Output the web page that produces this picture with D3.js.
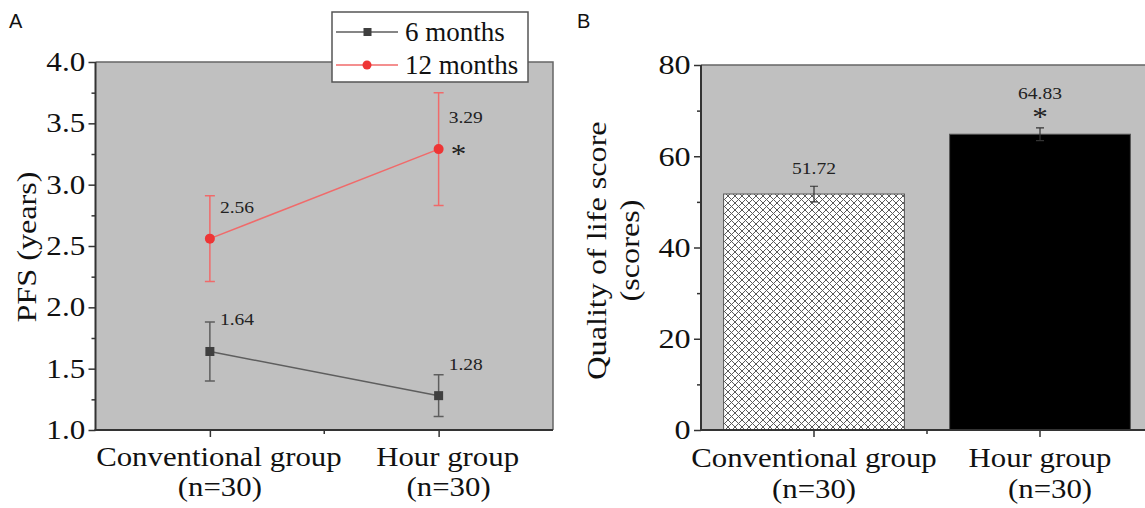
<!DOCTYPE html>
<html>
<head>
<meta charset="utf-8">
<script src="https://cdn.jsdelivr.net/npm/d3@7"></script>
<style>
    body { margin: 0; background: #fff; }
    text { font-family: "Liberation Serif", "Times New Roman", serif; }
</style>
</head>
<body>
<div id="chartarea"></div>
<script>
const groups = ['Conventional group', 'Hour group'];
const groupSizes = ['(n=30)', '(n=30)'];
const seriesNames = ['6 months', '12 months'];

// panel A - PFS (years)
const pfs6 = [1.64, 1.28];
const pfs6Err = [0.24, 0.17];
const pfs12 = [2.56, 3.29];
const pfs12Err = [0.35, 0.46];
const pfsTicks = [1.0, 1.5, 2.0, 2.5, 3.0, 3.5, 4.0];

// panel B - quality of life
const qolScores = [51.72, 64.83];
const qolErr = [1.7, 1.4];
const qolTicks = [0, 20, 40, 60, 80];

// the source figure's serif text is a bit wider than Times
const STRETCH = 'scale(1.15,1)';
const STRETCH_X = 'scale(1.1,1)';

const svg = d3.select('#chartarea')
    .append('svg')
        .attr('width', 1145)
        .attr('height', 508);

const defs = svg.append('defs');
const hatch = defs.append('pattern')
    .attr('id', 'crosshatch')
    .attr('width', 7)
    .attr('height', 7)
    .attr('patternUnits', 'userSpaceOnUse');
hatch.append('rect').attr('width', 7).attr('height', 7).attr('fill', '#fff');
hatch.append('path')
    .attr('d', 'M0,0L7,7M7,0L0,7')
    .attr('stroke', '#5a5a5a')
    .attr('stroke-width', 1);

const midTicks = ticks => ticks.slice(1).map((t, i) => (t + ticks[i]) / 2);

const styleAxis = (g, size) => {
    g.select('.domain').remove();
    g.selectAll('line').attr('stroke', '#333').attr('stroke-width', 1.5);
    g.selectAll('text')
        .attr('font-size', size)
        .attr('fill', '#111')
        .attr('transform', STRETCH)
        .style('font-family', '"Liberation Serif", serif');
};

// stretched text placed at (x, y)
const label = (parent, x, y, txt, size, anchor, stretch) => parent.append('g')
    .attr('transform', `translate(${x},${y}) ${stretch || STRETCH}`)
    .append('text')
        .attr('text-anchor', anchor || 'middle')
        .attr('font-size', size)
        .attr('fill', '#111')
        .text(txt);

// ---------- Panel A ----------
const A = { left: 95.5, top: 62, right: 553, bottom: 430 };

const xA = d3.scalePoint()
    .domain(groups)
    .range([A.left, A.right])
    .padding(0.5);

const yA = d3.scaleLinear()
    .domain([1, 4])
    .range([A.bottom, A.top]);

const gA = svg.append('g');

gA.append('rect')
    .attr('x', A.left)
    .attr('y', A.top)
    .attr('width', A.right - A.left)
    .attr('height', A.bottom - A.top)
    .attr('fill', '#c0c0c0');

gA.append('path')
    .attr('d', `M${A.left},${A.top}H${A.right}V${A.bottom}`)
    .attr('fill', 'none')
    .attr('stroke', '#666')
    .attr('stroke-width', 1.5);

// y axis
gA.append('g')
    .attr('transform', `translate(${A.left},0)`)
    .call(d3.axisLeft(yA).tickValues(pfsTicks).tickFormat(d3.format('.1f')).tickSize(7).tickPadding(2))
    .call(g => styleAxis(g, '27px'));
gA.append('g')
    .attr('transform', `translate(${A.left},0)`)
    .call(d3.axisLeft(yA).tickValues(midTicks(pfsTicks)).tickFormat('').tickSize(4))
    .call(g => styleAxis(g, '0px'));

// x axis
gA.append('g')
    .attr('transform', `translate(0,${A.bottom})`)
    .call(d3.axisBottom(xA).tickFormat('').tickSize(7))
    .call(g => styleAxis(g, '0px'));
gA.append('line')
    .attr('x1', (xA(groups[0]) + xA(groups[1])) / 2)
    .attr('x2', (xA(groups[0]) + xA(groups[1])) / 2)
    .attr('y1', A.bottom)
    .attr('y2', A.bottom + 4)
    .attr('stroke', '#333')
    .attr('stroke-width', 1.5);

gA.append('line')
    .attr('x1', A.left).attr('x2', A.left)
    .attr('y1', A.top).attr('y2', A.bottom + 1)
    .attr('stroke', '#333').attr('stroke-width', 2);
gA.append('line')
    .attr('x1', A.left - 1).attr('x2', A.right)
    .attr('y1', A.bottom).attr('y2', A.bottom)
    .attr('stroke', '#333').attr('stroke-width', 2);

// x labels
groups.forEach((d, i) => {
    label(gA, xA(d) + 9, A.bottom + 36, d, '28px', 'middle', STRETCH_X);
    label(gA, xA(d) + 10, A.bottom + 66, groupSizes[i], '28px', 'middle', STRETCH_X);
});

// y label
gA.append('g')
    .attr('transform', `translate(36, ${(A.top + A.bottom) / 2 + 1}) rotate(-90) ${STRETCH}`)
    .append('text')
        .attr('text-anchor', 'middle')
        .attr('font-size', '28px')
        .attr('fill', '#111')
        .text('PFS (years)');

const series = [
    { name: seriesNames[0], values: pfs6, err: pfs6Err, line: '#5e5e5e', mark: '#3f3f3f', shape: 'square' },
    { name: seriesNames[1], values: pfs12, err: pfs12Err, line: '#f06a6a', mark: '#ee3535', shape: 'circle' }
];

const lineGen = d3.line()
    .x((d, i) => xA(groups[i]))
    .y(d => yA(d));

series.forEach(s => {
    const g = gA.append('g');
    // error bars
    s.values.forEach((v, i) => {
        const cx = xA(groups[i]);
        g.append('path')
            .attr('d', `M${cx},${yA(v + s.err[i])}V${yA(v - s.err[i])}M${cx - 5},${yA(v + s.err[i])}H${cx + 5}M${cx - 5},${yA(v - s.err[i])}H${cx + 5}`)
            .attr('fill', 'none')
            .attr('stroke', s.line)
            .attr('stroke-width', 1.5);
    });
    g.append('path')
        .datum(s.values)
        .attr('d', lineGen)
        .attr('fill', 'none')
        .attr('stroke', s.line)
        .attr('stroke-width', 1.5);
    s.values.forEach((v, i) => {
        const cx = xA(groups[i]);
        if (s.shape === 'square') {
            g.append('rect')
                .attr('x', cx - 4.5).attr('y', yA(v) - 4.5)
                .attr('width', 9).attr('height', 9)
                .attr('fill', s.mark);
        } else {
            g.append('circle')
                .attr('cx', cx).attr('cy', yA(v))
                .attr('r', 5)
                .attr('fill', s.mark);
        }
        label(g, cx + 10, yA(v) - 26, d3.format('.2f')(v), '17px', 'start')
            .attr('fill', '#222');
    });
});

label(gA, xA(groups[1]) + 12, yA(pfs12[1]) + 14, '*', '27px', 'start')
    .attr('fill', '#222');

// legend
const legend = gA.append('g');
legend.append('rect')
    .attr('x', 332).attr('y', 12)
    .attr('width', 196).attr('height', 70)
    .attr('fill', '#fff')
    .attr('stroke', '#555')
    .attr('stroke-width', 1.5);
series.forEach((s, i) => {
    const ly = 32 + i * 33;
    legend.append('line')
        .attr('x1', 336).attr('x2', 398)
        .attr('y1', ly).attr('y2', ly)
        .attr('stroke', s.line)
        .attr('stroke-width', 1.5);
    if (s.shape === 'square') {
        legend.append('rect')
            .attr('x', 363.5).attr('y', ly - 4)
            .attr('width', 8).attr('height', 8)
            .attr('fill', s.mark);
    } else {
        legend.append('circle')
            .attr('cx', 367).attr('cy', ly)
            .attr('r', 4.5)
            .attr('fill', s.mark);
    }
    legend.append('text')
        .attr('x', 405)
        .attr('y', ly + 9)
        .attr('font-size', '27px')
        .attr('fill', '#111')
        .text(s.name);
});

// ---------- Panel B ----------
const B = { left: 701, top: 65, right: 1153, bottom: 430 };

const xB = d3.scaleBand()
    .domain(groups)
    .range([B.left, B.right])
    .paddingInner(0.2)
    .paddingOuter(0.1);

const yB = d3.scaleLinear()
    .domain([0, 80])
    .range([B.bottom, B.top]);

const gB = svg.append('g');

gB.append('rect')
    .attr('x', B.left)
    .attr('y', B.top)
    .attr('width', B.right - B.left)
    .attr('height', B.bottom - B.top)
    .attr('fill', '#c0c0c0');
gB.append('path')
    .attr('d', `M${B.left},${B.top}H${B.right}V${B.bottom}`)
    .attr('fill', 'none')
    .attr('stroke', '#666')
    .attr('stroke-width', 1.5);

gB.selectAll('.bar')
    .data(qolScores)
    .enter()
    .append('rect')
        .attr('x', (d, i) => xB(groups[i]))
        .attr('y', d => yB(d))
        .attr('width', xB.bandwidth())
        .attr('height', d => yB(0) - yB(d))
        .attr('fill', (d, i) => i === 0 ? 'url(#crosshatch)' : '#000')
        .attr('stroke', '#555')
        .attr('stroke-width', 1);

const xBc = d => xB(d) + xB.bandwidth() / 2;

qolScores.forEach((v, i) => {
    const cx = xBc(groups[i]);
    gB.append('path')
        .attr('d', `M${cx},${yB(v + qolErr[i])}V${yB(v - qolErr[i])}M${cx - 4},${yB(v + qolErr[i])}H${cx + 4}M${cx - 4},${yB(v - qolErr[i])}H${cx + 4}`)
        .attr('fill', 'none')
        .attr('stroke', '#333')
        .attr('stroke-width', 1.2);
    label(gB, cx, yB(v) - 20 - (i === 1 ? 15 : 0), d3.format('.2f')(v), '17px')
        .attr('fill', '#222');
});

label(gB, xBc(groups[1]), yB(qolScores[1]) - 8, '*', '27px')
    .attr('fill', '#222');

gB.append('g')
    .attr('transform', `translate(${B.left},0)`)
    .call(d3.axisLeft(yB).tickValues(qolTicks).tickFormat(d3.format('d')).tickSize(7).tickPadding(2))
    .call(g => styleAxis(g, '28px'));
gB.append('g')
    .attr('transform', `translate(${B.left},0)`)
    .call(d3.axisLeft(yB).tickValues(midTicks(qolTicks)).tickFormat('').tickSize(4))
    .call(g => styleAxis(g, '0px'));

gB.append('g')
    .attr('transform', `translate(0,${B.bottom})`)
    .call(d3.axisBottom(xB).tickFormat('').tickSize(7))
    .call(g => styleAxis(g, '0px'));
gB.append('line')
    .attr('x1', (xBc(groups[0]) + xBc(groups[1])) / 2)
    .attr('x2', (xBc(groups[0]) + xBc(groups[1])) / 2)
    .attr('y1', B.bottom)
    .attr('y2', B.bottom + 4)
    .attr('stroke', '#333')
    .attr('stroke-width', 1.5);

gB.append('line')
    .attr('x1', B.left).attr('x2', B.left)
    .attr('y1', B.top).attr('y2', B.bottom + 1)
    .attr('stroke', '#333').attr('stroke-width', 2);
gB.append('line')
    .attr('x1', B.left - 1).attr('x2', B.right)
    .attr('y1', B.bottom).attr('y2', B.bottom)
    .attr('stroke', '#333').attr('stroke-width', 2);

groups.forEach((d, i) => {
    label(gB, xBc(d), B.bottom + 37, d, '28px', 'middle', STRETCH_X);
    label(gB, xBc(d) + (i === 1 ? 10 : 0), B.bottom + 68, groupSizes[i], '28px', 'middle', STRETCH_X);
});

const yTitleB = gB.append('g')
    .attr('transform', `translate(606, ${(B.top + B.bottom) / 2 + 3}) rotate(-90) ${STRETCH}`)
    .append('text')
        .attr('text-anchor', 'middle')
        .attr('font-size', '28px')
        .attr('fill', '#111');
yTitleB.append('tspan').attr('x', 0).attr('y', 0).text('Quality of life score');
yTitleB.append('tspan').attr('x', 0).attr('y', 33).text('(scores)');

// panel letters
svg.append('text')
    .attr('x', 9).attr('y', 28)
    .style('font-family', '"Liberation Sans", Arial, sans-serif')
    .attr('font-size', '20px')
    .attr('fill', '#111')
    .text('A');
svg.append('text')
    .attr('x', 577).attr('y', 28)
    .style('font-family', '"Liberation Sans", Arial, sans-serif')
    .attr('font-size', '20px')
    .attr('fill', '#111')
    .text('B');
</script>
</body>
</html>
